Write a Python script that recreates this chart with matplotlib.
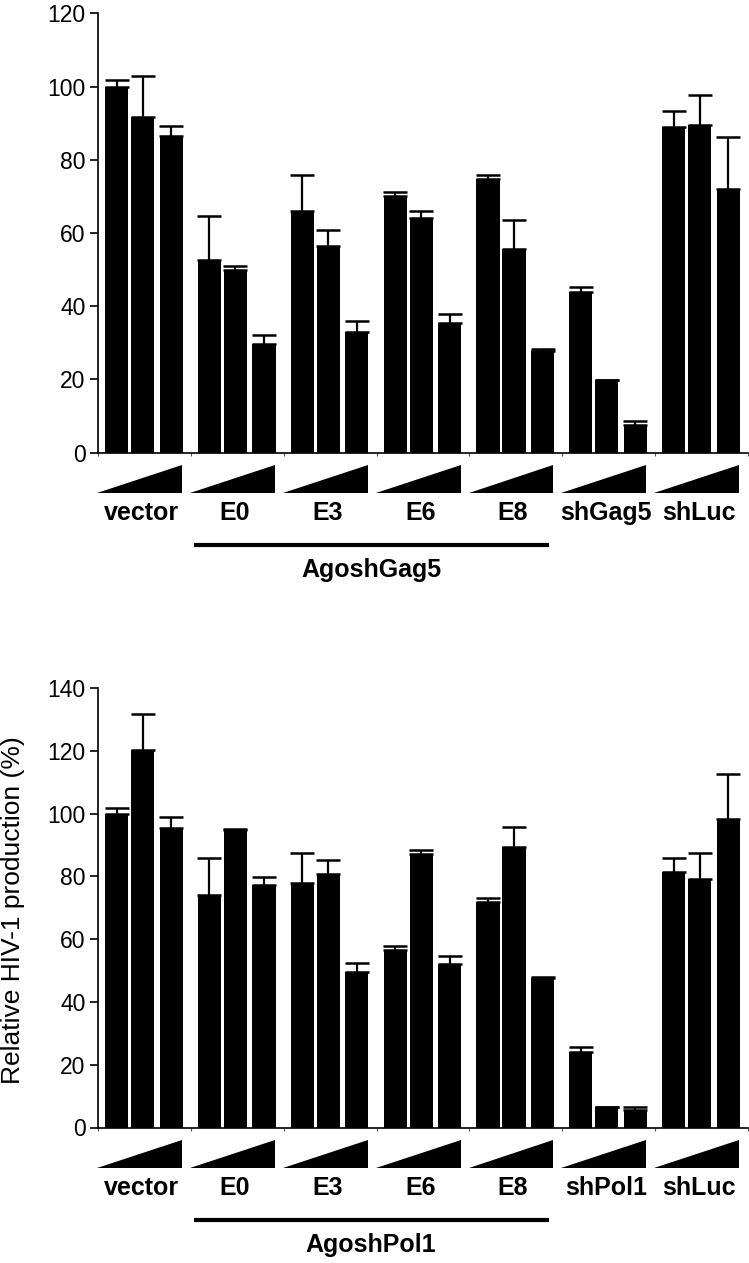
import matplotlib
matplotlib.use("Agg")
import matplotlib.pyplot as plt
import matplotlib.transforms as mtransforms
from matplotlib.patches import Polygon
import numpy as np

plt.rcParams["font.family"] = ["Liberation Sans", "DejaVu Sans"]

# ---------------------------------------------------------------------------
# data
# ---------------------------------------------------------------------------
groups_gag = ["vector", "E0", "E3", "E6", "E8", "shGag5", "shLuc"]
gag_mean = [
    [100.0, 91.6, 86.4],
    [52.5, 50.0, 29.6],
    [66.1, 56.4, 32.9],
    [70.0, 64.2, 35.5],
    [74.6, 55.7, 27.7],
    [43.9, 19.9, 7.4],
    [89.0, 89.6, 72.0],
]
gag_err = [
    [1.8, 11.4, 2.9],
    [12.1, 1.0, 2.5],
    [9.8, 4.3, 2.9],
    [1.1, 1.7, 2.3],
    [1.2, 7.7, 0.5],
    [1.2, 0.0, 1.2],
    [4.3, 8.2, 14.3],
]

groups_pol = ["vector", "E0", "E3", "E6", "E8", "shPol1", "shLuc"]
pol_mean = [
    [99.9, 120.4, 95.4],
    [74.1, 94.7, 77.1],
    [77.8, 80.8, 49.6],
    [56.5, 87.0, 52.0],
    [71.8, 89.4, 47.5],
    [24.2, 6.4, 5.6],
    [81.5, 79.3, 98.4],
]
pol_err = [
    [2.0, 11.2, 3.4],
    [11.9, 0.4, 2.8],
    [9.6, 4.3, 2.8],
    [1.4, 1.4, 2.7],
    [1.3, 6.4, 0.5],
    [1.5, 0.0, 0.8],
    [4.5, 8.1, 14.3],
]

# ---------------------------------------------------------------------------

W, H = 749, 1263
BAR_OFF = np.array([0.200, 0.480, 0.788])
BAR_W = 0.25


def panel(ax, groups, mean, err, ymax, ystep, bracket_label):
    mean = np.asarray(mean)
    err = np.asarray(err)
    n = len(groups)
    for i in range(n):
        x = i + BAR_OFF
        ax.bar(x, mean[i], BAR_W, color="black", linewidth=0, zorder=2)
        ax.errorbar(x, mean[i], yerr=[np.zeros(3), err[i]], fmt="none",
                    ecolor="black", elinewidth=1.6, capsize=8.5, capthick=1.8,
                    zorder=1)

    ax.set_xlim(0, n)
    ax.set_ylim(0, ymax)
    ax.set_yticks(np.arange(0, ymax + 1, ystep))
    ax.set_xticks(np.arange(0, n + 1))
    ax.set_xticklabels([])
    for s in ("top", "right"):
        ax.spines[s].set_visible(False)
    for s in ("left", "bottom"):
        ax.spines[s].set_linewidth(1.2)
    ax.tick_params(axis="y", length=6, width=1.2, labelsize=16.5, pad=3)
    ax.tick_params(axis="x", length=2.5, width=0.8, color="#555555")

    trans = mtransforms.blended_transform_factory(ax.transData, ax.transAxes)
    for i, name in enumerate(groups):
        tri = Polygon([[i - 0.01, -0.092], [i + 0.905, -0.092], [i + 0.905, -0.029]],
                      closed=True, facecolor="black", edgecolor="none",
                      transform=trans, clip_on=False)
        ax.add_patch(tri)
        ax.text(i + 0.47, -0.138, name, transform=trans, ha="center", va="center",
                fontsize=18, fontweight="bold")

    ax.plot([1.03, 4.855], [-0.211, -0.211], color="black", linewidth=3,
            solid_capstyle="butt", transform=trans, clip_on=False)
    ax.text(2.94, -0.267, bracket_label, transform=trans, ha="center",
            va="center", fontsize=18, fontweight="bold")


fig = plt.figure(figsize=(W / 100, H / 100), dpi=100)
ax_top = fig.add_axes([98 / W, (H - 452.5) / H, 650 / W, 439.2 / H])
ax_bot = fig.add_axes([98 / W, (H - 1127.5) / H, 650 / W, 439.5 / H])

panel(ax_top, groups_gag, gag_mean, gag_err, 120, 20, "AgoshGag5")
panel(ax_bot, groups_pol, pol_mean, pol_err, 140, 20, "AgoshPol1")

fig.text(13 / W, (H - 910) / H, "Relative HIV-1 production (%)", rotation=90,
         ha="center", va="center", fontsize=19)

fig.savefig("out.png", dpi=100)
